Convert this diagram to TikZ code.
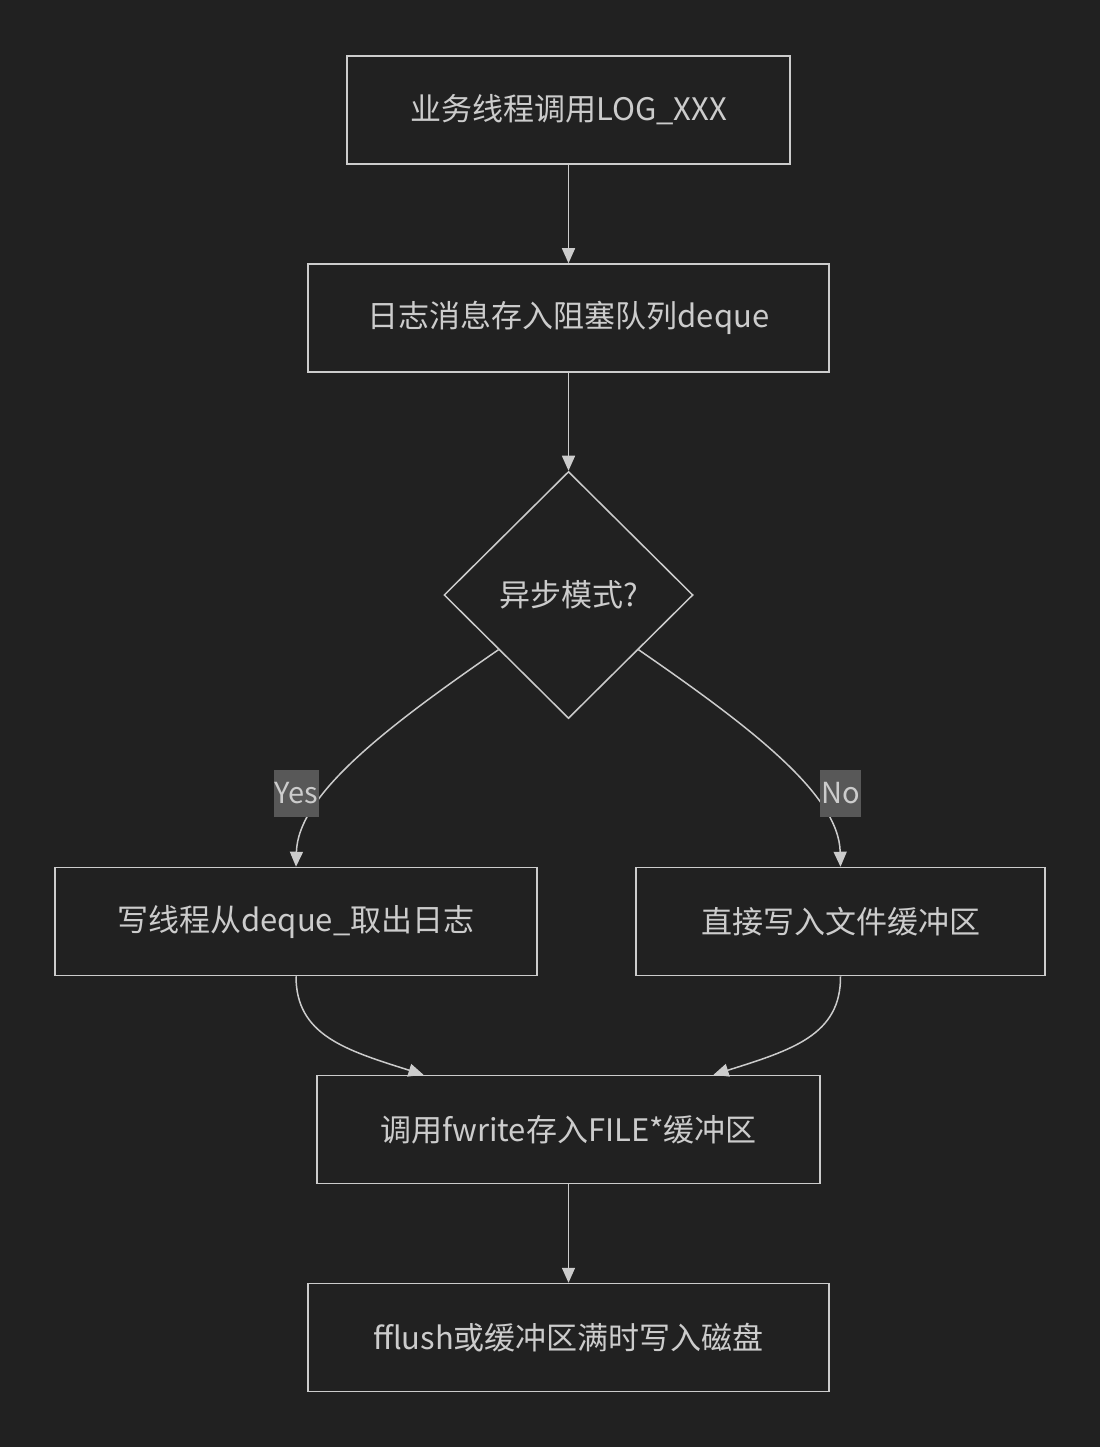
\documentclass[tikz,border=0pt]{standalone}
\usepackage{fontspec}
\newfontfamily\cjk{Noto Sans CJK SC}
\usepackage{tikz}
\usetikzlibrary{arrows.meta,shapes.geometric}
\definecolor{BgDark}{RGB}{33,33,33}
\definecolor{LineGrey}{RGB}{204,204,204}
\definecolor{LabelGrey}{RGB}{88,88,88}
\tikzset{
  procbox/.style={draw=LineGrey,line width=1.5pt,minimum width=#1,minimum height=108pt,inner sep=0pt,text=LineGrey,font=\cjk\fontsize{31}{36}\selectfont},
  decision/.style={diamond,draw=LineGrey,line width=1.5pt,minimum width=249pt,minimum height=247pt,inner sep=0pt,text=LineGrey,font=\cjk\fontsize{31}{36}\selectfont},
  edgelabel/.style={fill=LabelGrey,text=LineGrey,inner xsep=1pt,inner ysep=0pt,minimum height=47pt,font=\cjk\fontsize{29}{34}\selectfont},
  flow/.style={draw=LineGrey,line width=1.5pt,-{Triangle[length=15pt,width=13pt]}}
}
\begin{document}
\begin{tikzpicture}[x=1pt,y=1pt,yscale=-1,xscale=1]
%Background
\fill[BgDark] (0,0) rectangle (1100,1447);

%Shape: Rectangle
\node[procbox=443pt] (logcall) at (568.5,110) {业务线程调用LOG\_XXX};
%Shape: Rectangle
\node[procbox=521pt] (pushdeque) at (568.5,318) {日志消息存入阻塞队列deque};
%Shape: Diamond
\node[decision] (asyncmode) at (568.5,595) {异步模式?};
%Shape: Rectangle
\node[procbox=482pt] (takelog) at (296,921.5) {写线程从deque\_取出日志};
%Shape: Rectangle
\node[procbox=409pt] (directwrite) at (840.5,921.5) {直接写入文件缓冲区};
%Shape: Rectangle
\node[procbox=503pt] (fwritebuf) at (568.5,1129.5) {调用fwrite存入FILE*缓冲区};
%Shape: Rectangle
\node[procbox=521pt] (flushdisk) at (568.5,1337.5) {fflush或缓冲区满时写入磁盘};

\coordinate (yespt) at (296.5,793.5);
\coordinate (nopt) at (840.5,793.5);

%Straight Lines
\draw[flow] (logcall) -- (pushdeque);
\draw[flow] (pushdeque) -- (asyncmode);
\draw[flow] (fwritebuf) -- (flushdisk);
%Curve Lines
\draw[flow] (asyncmode.-142) .. controls (385,728) and (298,795) .. (takelog.north);
\draw[flow] (asyncmode.-38) .. controls (752,728) and (839,795) .. (directwrite.north);
\draw[flow] (takelog.south) .. controls (296,1035) and (345,1050) .. ([xshift=-145pt]fwritebuf.north);
\draw[flow] (directwrite.south) .. controls (841,1035) and (792,1050) .. ([xshift=145pt]fwritebuf.north);

% Text Node
\node[edgelabel] (yeslbl) at (yespt) {Yes};
% Text Node
\node[edgelabel] (nolbl) at (nopt) {No};
\end{tikzpicture}
\end{document}
